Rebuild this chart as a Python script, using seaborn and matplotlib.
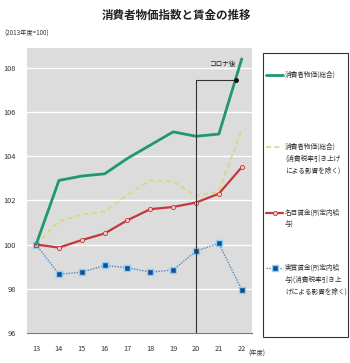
import matplotlib
matplotlib.use("Agg")
import matplotlib.pyplot as plt
import seaborn as sns
import pandas as pd
from matplotlib.patches import Rectangle
from matplotlib.lines import Line2D

years = [13, 14, 15, 16, 17, 18, 19, 20, 21, 22]
cpi_total = [100.0, 102.9, 103.1, 103.2, 103.9, 104.5, 105.1, 104.9, 105.0, 108.4]
cpi_ex_tax = [100.0, 101.05, 101.35, 101.5, 102.25, 102.9, 102.85, 102.2, 102.4, 105.2]
nominal_wage = [100.0, 99.86, 100.2, 100.5, 101.1, 101.6, 101.7, 101.9, 102.3, 103.5]
real_wage = [100.0, 98.65, 98.75, 99.05, 98.95, 98.75, 98.85, 99.7, 100.05, 97.95]
y_ticks = [96, 98, 100, 102, 104, 106, 108]

labels = ["消費者物価(総合)",
          "消費者物価(総合)\n(消費税率引き上げ\nによる影響を除く)",
          "名目賃金(所定内給\n与)",
          "実質賃金(所定内給\n与)(消費税率引き上\nげによる影響を除く)"]

sns.set_theme(style="white")
plt.rcParams['font.family'] = ['Noto Sans CJK JP', 'DejaVu Sans']

df = pd.DataFrame({"year": years, "cpi": cpi_total, "cpi_ex": cpi_ex_tax,
                   "nom": nominal_wage, "real": real_wage})

fig = plt.figure(figsize=(3.5, 3.63), dpi=100)
ax = fig.add_axes([0.077, 0.083, 0.643, 0.785])
ax.set_facecolor("#dcdcdc")

c_green = "#1f9870"
c_yellow = "#d9d77a"
c_red = "#c4373c"
c_blue = "#4f86c2"

sns.lineplot(data=df, x="year", y="cpi_ex", ax=ax, color=c_yellow, lw=1.2,
             linestyle=(0, (3, 2)), zorder=3)
sns.lineplot(data=df, x="year", y="real", ax=ax, color=c_blue, lw=1.0,
             linestyle=(0, (1, 1)), marker="s", markersize=4,
             markerfacecolor="#124f96", markeredgecolor="#8fd0f0", markeredgewidth=1.0, zorder=4)
sns.lineplot(data=df, x="year", y="nom", ax=ax, color=c_red, lw=1.6,
             marker="o", markersize=3, markerfacecolor="#f2c8c8",
             markeredgecolor=c_red, markeredgewidth=0.6, zorder=5)
sns.lineplot(data=df, x="year", y="cpi", ax=ax, color=c_green, lw=2.0, zorder=6)

ax.set_xlim(12.6, 22.45)
ax.set_ylim(96, 108.9)
ax.set_yticks(y_ticks)
ax.set_xticks(years)
ax.set_yticklabels([str(v) for v in y_ticks], fontsize=5.3)
ax.set_xticklabels([str(v) for v in years], fontsize=5.3)
ax.grid(axis="y", color="white", lw=1.0)
ax.set_axisbelow(True)
ax.set_xlabel("")
ax.set_ylabel("")
for s in ["top", "right", "left"]:
    ax.spines[s].set_visible(False)
ax.spines["bottom"].set_color("#777777")
ax.spines["bottom"].set_linewidth(0.8)
ax.tick_params(axis="x", length=2, pad=7, colors="#333333", width=0.6)
ax.tick_params(axis="y", length=0, pad=8, colors="#333333")

# コロナ後 annotation
corona_x = 20
corona_top = 107.45
corona_end = 21.73
ax.plot([corona_x, corona_x], [96, corona_top], color="#333333", lw=0.8, zorder=7)
ax.plot([corona_x, corona_end], [corona_top, corona_top], color="#333333", lw=0.8, zorder=7)
ax.plot([corona_end], [corona_top], "o", color="#111111", ms=2.5, zorder=8)
ax.text(21.2, 108.15, "コロナ後", fontsize=4.8, ha="center", va="center", color="#222222")

# Titles
fig.text(0.503, 0.958, "消費者物価指数と賃金の推移", fontsize=8.3, fontweight="bold",
         ha="center", va="center", color="#222222")
fig.text(0.012, 0.908, "(2013年度=100)", fontsize=4.5, ha="left", va="center", color="#333333")
fig.text(0.71, 0.015, "(年度)", fontsize=4.5, ha="left", va="bottom", color="#333333")

# Legend box (manual)
W, H = 350.0, 363.0
def fx(px): return px / W
def fy(py): return 1 - py / H
fig.patches.append(Rectangle((fx(263), fy(337)), fx(348) - fx(263), fy(53) - fy(337),
                             transform=fig.transFigure, fill=False, ec="#333333", lw=0.8))
entries = [
    (75, dict(color=c_green, lw=2.0)),
    (147, dict(color=c_yellow, lw=1.2, linestyle=(0, (3, 2)))),
    (213, dict(color=c_red, lw=1.6, marker="o", ms=3, mfc="#f2c8c8", mec=c_red, mew=0.6)),
    (268, dict(color=c_blue, lw=1.0, linestyle=(0, (1, 1)), marker="s", ms=4,
               mfc="#124f96", mec="#8fd0f0", mew=1.0)),
]
for (py, st), lab in zip(entries, labels):
    if "marker" in st:
        st2 = dict(st)
        for k in ["marker", "ms", "mfc", "mec", "mew"]:
            st2.pop(k)
        fig.lines.append(Line2D([fx(266), fx(283)], [fy(py), fy(py)],
                                transform=fig.transFigure, **st2))
        fig.lines.append(Line2D([fx(274.5)], [fy(py)], transform=fig.transFigure,
                                linestyle="none", marker=st["marker"], ms=st["ms"],
                                mfc=st["mfc"], mec=st["mec"], mew=st["mew"]))
    else:
        fig.lines.append(Line2D([fx(266), fx(283)], [fy(py), fy(py)],
                                transform=fig.transFigure, **st))
    fig.text(fx(285), fy(py) + 0.013, lab, fontsize=4.8, ha="left", va="top",
             color="#333333", linespacing=1.7)

fig.savefig("out.png", dpi=100)
